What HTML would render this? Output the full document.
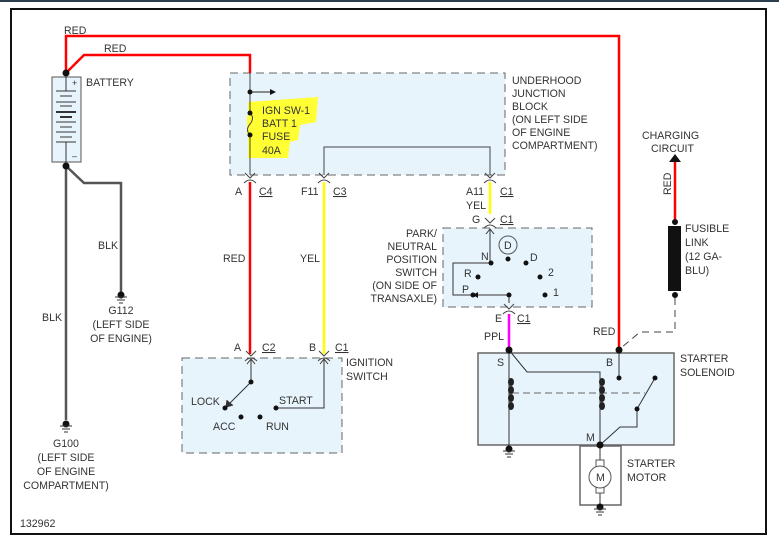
<!DOCTYPE html>
<html><head><style>
body{margin:0;background:#fff;}
svg{display:block;}
text{font-family:"Liberation Sans",Arial,sans-serif;font-size:10.6px;fill:#333;}
</style></head><body>
<svg width="779" height="546" viewBox="0 0 779 546">
<defs>
<g id="con"><path d="M-5,-4 L0,1 L5,-4" fill="none" stroke="#444" stroke-width="1"/><path d="M-6,6 Q0,0 6,6" fill="none" stroke="#444" stroke-width="1"/></g>
<g id="gnd"><circle cx="0" cy="0" r="3.5" fill="#111"/><line x1="-6" y1="2" x2="6" y2="2" stroke="#333"/><line x1="-4" y1="5" x2="4" y2="5" stroke="#333"/><line x1="-2" y1="8" x2="2" y2="8" stroke="#333"/></g>
</defs>
<rect x="0" y="0" width="779" height="2" fill="#2c3e50"/>
<rect x="11" y="9" width="755" height="525" fill="#fff" stroke="#111" stroke-width="2"/>

<!-- boxes -->
<rect x="230" y="73" width="275" height="102" fill="#e8f4fb" stroke="#666" stroke-dasharray="8,5"/>
<rect x="182" y="358" width="160" height="95" fill="#e8f4fb" stroke="#666" stroke-dasharray="8,5"/>
<rect x="443" y="228" width="149" height="79" fill="#e8f4fb" stroke="#666" stroke-dasharray="8,5"/>
<rect x="478" y="353" width="196" height="92" fill="#e8f4fb" stroke="#666" stroke-width="1.5"/>
<rect x="580" y="446" width="41" height="59" fill="#fff" stroke="#666" stroke-width="1.5"/>

<!-- highlight -->
<path d="M248,102 L318,97 L316,122 L300,125 L298,140 L290,142 L288,158 L248,158 Z" fill="#ffff33"/>

<!-- red wires -->
<path d="M66,73 L66,36 L619,36 L619,350" fill="none" stroke="#f00" stroke-width="2.5"/>
<path d="M66,73 L84,55 L250,55 L250,73" fill="none" stroke="#f00" stroke-width="2.5"/>
<line x1="250" y1="182" x2="250" y2="354" stroke="#f00" stroke-width="2.5"/>
<line x1="675" y1="160" x2="675" y2="222" stroke="#f00" stroke-width="2.5"/>
<!-- yellow -->
<line x1="324" y1="182" x2="324" y2="354" stroke="#ff0" stroke-width="2.5"/>
<line x1="490" y1="182" x2="490" y2="214" stroke="#ff0" stroke-width="2.5"/>
<!-- magenta -->
<line x1="509" y1="314" x2="509" y2="350" stroke="#f0f" stroke-width="2.5"/>
<!-- black/grey wires -->
<path d="M66,166 L66,420" fill="none" stroke="#555" stroke-width="2.5"/>
<path d="M66,166 L84,183 L121,183 L121,292" fill="none" stroke="#555" stroke-width="2.5"/>

<!-- battery -->
<rect x="52" y="77" width="29" height="85" fill="#e8f4fb" stroke="#555"/>
<g stroke="#333">
<line x1="66" y1="77" x2="66" y2="91"/><line x1="66" y1="142" x2="66" y2="162"/>
<line x1="56" y1="91" x2="76" y2="91"/><line x1="60" y1="96" x2="72" y2="96"/>
<line x1="56" y1="102" x2="76" y2="102"/><line x1="60" y1="106" x2="72" y2="106"/>
<line x1="56" y1="112" x2="76" y2="112" stroke-width="2"/><line x1="60" y1="117" x2="72" y2="117" stroke-width="2"/>
<line x1="56" y1="122" x2="76" y2="122"/><line x1="60" y1="127" x2="72" y2="127"/>
<line x1="56" y1="132" x2="76" y2="132"/><line x1="60" y1="137" x2="72" y2="137"/>
<line x1="56" y1="142" x2="76" y2="142"/>
</g>
<text x="72" y="86" style="font-size:9px">+</text><text x="72" y="159" style="font-size:9px">–</text>
<circle cx="66" cy="73" r="3.5" fill="#111"/><circle cx="66" cy="166" r="3.5" fill="#111"/>
<text x="86" y="86">BATTERY</text>
<text x="64" y="34">RED</text><text x="104" y="52">RED</text>

<!-- junction internals -->
<line x1="250" y1="73" x2="250" y2="175" stroke="#444"/>
<circle cx="250" cy="92" r="2.5" fill="#111"/><line x1="250" y1="92" x2="270" y2="92" stroke="#222"/><path d="M270,89 L276,92 L270,95 Z" fill="#111"/>
<rect x="247" y="115" width="6" height="20" fill="#ffff33"/>
<path d="M250,113 Q255,118 250,124 Q245,130 250,135" fill="none" stroke="#444"/>
<circle cx="250" cy="113" r="2.5" fill="#111"/><circle cx="250" cy="135" r="2.5" fill="#111"/>
<text x="262" y="114">IGN SW-1</text><text x="262" y="127">BATT 1</text><text x="262" y="140">FUSE</text><text x="262" y="154">40A</text>
<path d="M324,175 L324,147 L490,147 L490,175" fill="none" stroke="#444"/>
<use href="#con" x="250" y="177"/><use href="#con" x="324" y="177"/><use href="#con" x="490" y="177"/>
<text x="235" y="195">A</text><text x="259" y="195" text-decoration="underline">C4</text>
<text x="301" y="195">F11</text><text x="333" y="195" text-decoration="underline">C3</text>
<text x="466" y="195">A11</text><text x="500" y="195" text-decoration="underline">C1</text>
<text x="466" y="209">YEL</text>
<text x="512" y="84">UNDERHOOD</text><text x="512" y="97">JUNCTION</text><text x="512" y="110">BLOCK</text>
<text x="512" y="123">(ON LEFT SIDE</text><text x="512" y="136">OF ENGINE</text><text x="512" y="149">COMPARTMENT)</text>
<text x="223" y="262">RED</text><text x="300" y="262">YEL</text>
<text x="98" y="249">BLK</text><text x="42" y="321">BLK</text>

<!-- grounds -->
<use href="#gnd" x="121" y="295"/>
<text x="121" y="314" text-anchor="middle">G112</text><text x="121" y="328" text-anchor="middle">(LEFT SIDE</text><text x="121" y="342" text-anchor="middle">OF ENGINE)</text>
<use href="#gnd" x="66" y="424"/>
<text x="66" y="447" text-anchor="middle">G100</text><text x="66" y="461" text-anchor="middle">(LEFT SIDE</text><text x="66" y="475" text-anchor="middle">OF ENGINE</text><text x="66" y="489" text-anchor="middle">COMPARTMENT)</text>
<text x="20" y="527">132962</text>

<!-- ignition switch -->
<use href="#con" x="251" y="355"/><use href="#con" x="324" y="355"/>
<text x="234" y="351">A</text><text x="262" y="351" text-decoration="underline">C2</text>
<text x="309" y="351">B</text><text x="335" y="351" text-decoration="underline">C1</text>
<text x="346" y="366">IGNITION</text><text x="346" y="380">SWITCH</text>
<line x1="251" y1="359" x2="251" y2="382" stroke="#333"/><path d="M247,364 L251,359 L255,364" fill="none" stroke="#333"/>
<path d="M324,359 L324,408 L276,408" fill="none" stroke="#333"/><path d="M320,364 L324,359 L328,364" fill="none" stroke="#333"/>
<line x1="251" y1="382" x2="228" y2="405" stroke="#333"/><path d="M227,400 L226,407 L233,405" fill="#333" stroke="#333"/>
<circle cx="251" cy="382" r="2.5" fill="#111"/><circle cx="225" cy="408" r="2.5" fill="#111"/><circle cx="276" cy="408" r="2.5" fill="#111"/>
<circle cx="241" cy="417" r="2.5" fill="#111"/><circle cx="260" cy="417" r="2.5" fill="#111"/>
<text x="191" y="405">LOCK</text><text x="279" y="404">START</text><text x="213" y="430">ACC</text><text x="266" y="430">RUN</text>

<!-- PNP switch -->
<use href="#con" x="490" y="222"/><text x="472" y="223">G</text><text x="500" y="223" text-decoration="underline">C1</text>
<text x="437" y="237" text-anchor="end">PARK/</text><text x="437" y="250" text-anchor="end">NEUTRAL</text><text x="437" y="263" text-anchor="end">POSITION</text><text x="437" y="276" text-anchor="end">SWITCH</text><text x="437" y="289" text-anchor="end">(ON SIDE OF</text><text x="437" y="302" text-anchor="end">TRANSAXLE)</text>
<line x1="490" y1="229" x2="490" y2="263" stroke="#333"/><path d="M486,234 L490,229 L494,234" fill="none" stroke="#333"/>
<path d="M490,263 L453,263 L453,295 L509,295 L509,303" fill="none" stroke="#333"/>
<path d="M478,292 L473,295 L478,298 Z" fill="#111"/>
<circle cx="508" cy="245" r="9" fill="none" stroke="#555"/><text x="504" y="249">D</text>
<g fill="#111"><circle cx="491" cy="263" r="2.5"/><circle cx="508" cy="259" r="2.5"/><circle cx="526" cy="263" r="2.5"/><circle cx="478" cy="277" r="2.5"/><circle cx="540" cy="277" r="2.5"/><circle cx="473" cy="295" r="2.5"/><circle cx="509" cy="295" r="2.5"/><circle cx="545" cy="295" r="2.5"/></g>
<text x="481" y="260">N</text><text x="530" y="261">D</text><text x="464" y="277">R</text><text x="548" y="276">2</text><text x="462" y="293">P</text><text x="553" y="296">1</text>
<use href="#con" x="509" y="308"/><text x="495" y="322">E</text><text x="517" y="322" text-decoration="underline">C1</text>
<text x="484" y="340">PPL</text>

<!-- solenoid internals -->
<text x="593" y="335">RED</text>
<g stroke="#333" fill="none">
<path d="M509,350 L509,448"/>
<path d="M509,350 L527,372 L600,372 L600,445"/>
<path d="M619,350 L619,378"/>
<path d="M637,409 L655,378"/>
<path d="M637,409 L637,427 L620,427 L600,445"/>
<path d="M600,445 L600,505"/>
</g>
<line x1="512" y1="393" x2="645" y2="393" stroke="#666" stroke-dasharray="7,4"/>
<g fill="#222"><ellipse cx="511" cy="382" rx="3" ry="4"/><ellipse cx="511" cy="390" rx="3" ry="4"/><ellipse cx="511" cy="398" rx="3" ry="4"/><ellipse cx="511" cy="406" rx="3" ry="4"/>
<ellipse cx="602" cy="382" rx="3" ry="4"/><ellipse cx="602" cy="390" rx="3" ry="4"/><ellipse cx="602" cy="398" rx="3" ry="4"/><ellipse cx="602" cy="406" rx="3" ry="4"/></g>
<g fill="#111"><circle cx="509" cy="350" r="3.5"/><circle cx="619" cy="350" r="3.5"/><circle cx="619" cy="378" r="2.5"/><circle cx="655" cy="378" r="2.5"/><circle cx="637" cy="409" r="2.5"/><circle cx="600" cy="445" r="3.5"/></g>
<text x="497" y="366">S</text><text x="606" y="366">B</text><text x="586" y="441">M</text>
<text x="680" y="362">STARTER</text><text x="680" y="376">SOLENOID</text>
<use href="#gnd" x="509" y="449"/>
<rect x="596" y="460" width="8" height="8" fill="#fff" stroke="#555"/><rect x="596" y="485" width="8" height="8" fill="#fff" stroke="#555"/>
<circle cx="600" cy="477" r="11" fill="#fff" stroke="#555"/><text x="596" y="481">M</text>
<text x="627" y="467">STARTER</text><text x="627" y="481">MOTOR</text>
<use href="#gnd" x="600" y="507"/>

<!-- fusible link -->
<rect x="668" y="226" width="13" height="65" fill="#111"/>
<circle cx="675" cy="222" r="3" fill="#111"/><circle cx="675" cy="295" r="3" fill="#111"/>
<path d="M675,298 L675,332 L640,332 L621,348" fill="none" stroke="#444" stroke-dasharray="7,5"/>
<path d="M669,162 L675,154 L681,162 Z" fill="#111"/>
<text x="642" y="139">CHARGING</text><text x="651" y="152">CIRCUIT</text>
<text transform="translate(671,195) rotate(-90)">RED</text>
<text x="685" y="232">FUSIBLE</text><text x="685" y="246">LINK</text><text x="685" y="260">(12 GA-</text><text x="685" y="274">BLU)</text>
</svg>
</body></html>
